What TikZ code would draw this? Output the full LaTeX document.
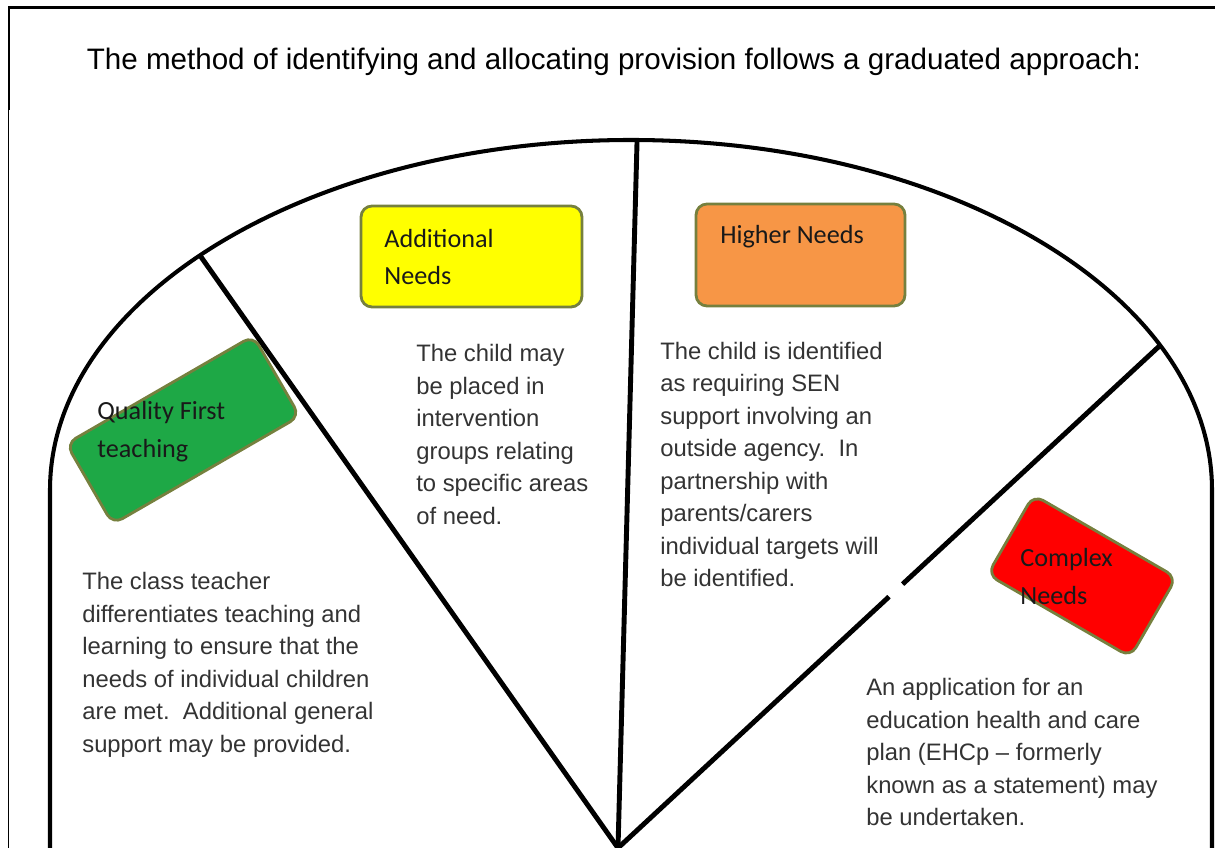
\documentclass[tikz,border=0pt]{standalone}
\usepackage{fontspec}
\setmainfont{Liberation Sans}
\newfontfamily\labelfont{Carlito}
\usetikzlibrary{calc}
\definecolor{boxolive}{RGB}{118,128,62}
\definecolor{firstgreen}{RGB}{30,168,70}
\definecolor{addyellow}{RGB}{255,255,0}
\definecolor{higherorange}{RGB}{247,150,70}
\definecolor{complexred}{RGB}{255,0,0}

\begin{document}
\begin{tikzpicture}[x=0.02cm, y=0.02cm,
    needbox/.style={draw=boxolive, line width=1.6pt, rounded corners=0.22cm, inner sep=0pt},
    needlabel/.style={anchor=west, align=left, inner sep=0pt, text=black!90,
        font=\labelfont\fontsize{14.9}{21.5}\selectfont},
    bodytext/.style={anchor=west, align=left, inner sep=0pt, text=black!80,
        font=\fontsize{13.55}{18.5}\selectfont},
    divider/.style={line width=2.8pt}]
    \useasboundingbox (0,0) rectangle (1215,848);

    % Frame and title
    \draw[line width=1.7pt] (9,738) -- (9,840) -- (1215,840);
    \draw[line width=0.5pt] (8,738) -- (8,0);
    \node[font=\fontsize{16.84}{20}\selectfont] (title) at (614,786)
        {The method of identifying and allocating provision follows a graduated approach:};

    % Arch
    \coordinate (archc) at (631,358);
    \draw[line width=2.3pt] (50,0) -- (50,358)
        arc[start angle=180, end angle=0, x radius=581, y radius=350] -- (1212,0);

    % Dividers
    \coordinate (base) at (618,0);
    \coordinate (lefttop) at ($(archc)+(137.9:581 and 350)$);
    \coordinate (midtop) at ($(archc)+(89.4:581 and 350)$);
    \coordinate (righttop) at ($(archc)+(24.4:581 and 350)$);
    \draw[divider] (base) -- (lefttop);
    \draw[divider] (base) -- (midtop);
    \draw[divider] (base) -- ($(base)!0.50!(righttop)$);
    \draw[divider] ($(base)!0.525!(righttop)$) -- (righttop);

    % Coloured boxes
    \node[needbox, fill=firstgreen, minimum width=4.32cm, minimum height=1.86cm, rotate=30]
        (firstbox) at (183,418) {};
    \node[needbox, fill=addyellow, minimum width=4.42cm, minimum height=2.02cm]
        (addbox) at (471.5,591.5) {};
    \node[needbox, fill=higherorange, minimum width=4.18cm, minimum height=2.04cm]
        (higherbox) at (800.5,593) {};
    \node[needbox, fill=complexred, minimum width=3.3cm, minimum height=1.84cm, rotate=-30]
        (complexbox) at (1082,272) {};

    % Box labels
    \node[needlabel] (firstlbl) at (97,416.5) {Quality First\\teaching};
    \node[needlabel] (addlbl) at (384,591) {Additional\\Needs};
    \node[needlabel] (higherlbl) at (720,611) {Higher Needs};
    \node[needlabel] (complexlbl) at (1020,271.5) {Complex\\Needs};

    % Descriptions
    \node[bodytext] (firsttxt) at (82,183) {The class teacher\\differentiates teaching and\\learning to ensure that the\\needs of individual children\\are met.\ \ Additional general\\support may be provided.};
    \node[bodytext] (addtxt) at (416,413.5) {The child may\\be placed in\\intervention\\groups relating\\to specific areas\\of need.};
    \node[bodytext] (highertxt) at (660,383.5) {The child is identified\\as requiring SEN\\support involving an\\outside agency.\ \ In\\partnership with\\parents/carers\\individual targets will\\be identified.};
    \node[bodytext] (complextxt) at (866,96) {An application for an\\education health and care\\plan (EHCp -- formerly\\known as a statement) may\\be undertaken.};
\end{tikzpicture}
\end{document}
